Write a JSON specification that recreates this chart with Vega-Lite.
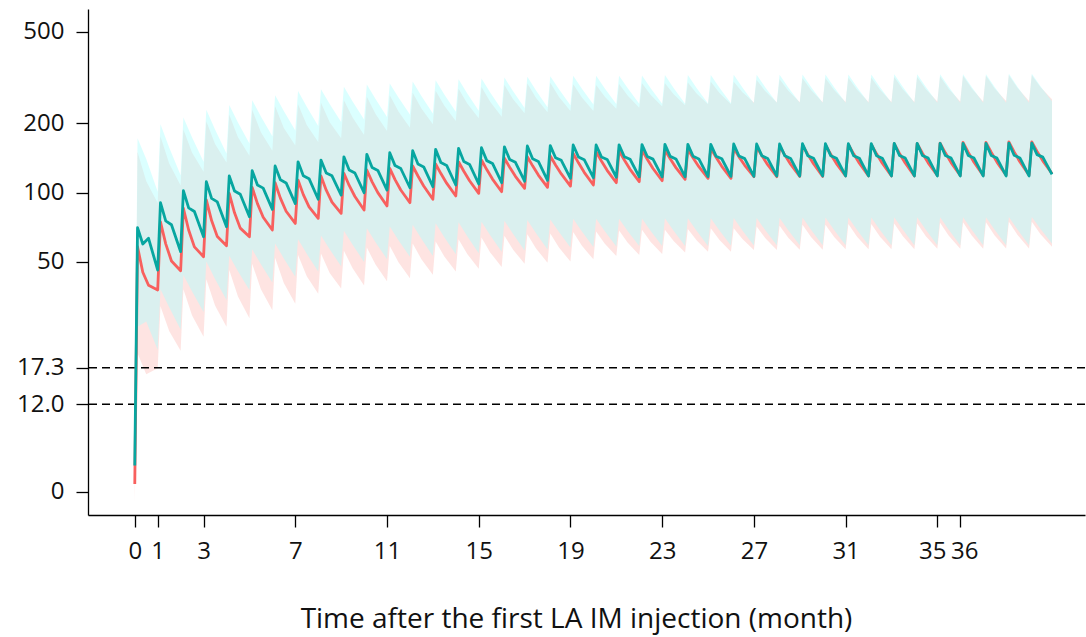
{
  "$schema": "https://vega.github.io/schema/vega-lite/v6.json",
  "width": 997,
  "height": 506,
  "autosize": {"type": "none"},
  "padding": {"left": 88, "top": 9, "right": 1, "bottom": 122},
  "background": "white",
  "config": {
    "view": {"stroke": null},
    "font": "Open Sans",
    "axis": {"domainColor": "#000000", "domainWidth": 1.3, "tickColor": "#000000", "tickWidth": 1.3, "labelColor": "#111111", "titleColor": "#111111", "titleFontWeight": "normal", "grid": false}
  },
  "datasets": {
    "refs": [{"y": 17.3}, {"y": 12}],
    "lines": [
      {"t":0,"g":"A","v":5.4},
      {"t":0.12,"g":"A","v":58.1},{"t":0.35,"g":"A","v":45},{"t":0.6,"g":"A","v":39.5},{"t":1,"g":"A","v":37.7},
      {"t":1.12,"g":"A","v":74.6},{"t":1.35,"g":"A","v":59.8},{"t":1.6,"g":"A","v":50.4},{"t":2,"g":"A","v":45.7},
      {"t":2.12,"g":"A","v":85.4},{"t":2.35,"g":"A","v":68.7},{"t":2.6,"g":"A","v":58.0},{"t":3,"g":"A","v":52.6},
      {"t":3.12,"g":"A","v":92.8},{"t":3.35,"g":"A","v":75.5},{"t":3.6,"g":"A","v":64.3},{"t":4,"g":"A","v":58.7},
      {"t":4.12,"g":"A","v":99.2},{"t":4.35,"g":"A","v":81.6},{"t":4.6,"g":"A","v":70.0},{"t":5,"g":"A","v":64.2},
      {"t":5.12,"g":"A","v":105.3},{"t":5.35,"g":"A","v":89.5},{"t":5.6,"g":"A","v":78.1},{"t":6,"g":"A","v":68.7},
      {"t":6.12,"g":"A","v":110.3},{"t":6.35,"g":"A","v":94.5},{"t":6.6,"g":"A","v":82.9},{"t":7,"g":"A","v":73.4},
      {"t":7.12,"g":"A","v":113.3},{"t":7.35,"g":"A","v":97.9},{"t":7.6,"g":"A","v":86.6},{"t":8,"g":"A","v":77.2},
      {"t":8.12,"g":"A","v":118.0},{"t":8.35,"g":"A","v":102.4},{"t":8.6,"g":"A","v":90.8},{"t":9,"g":"A","v":81.2},
      {"t":9.12,"g":"A","v":121.2},{"t":9.35,"g":"A","v":107.3},{"t":9.6,"g":"A","v":96.1},{"t":10,"g":"A","v":83.9},
      {"t":10.12,"g":"A","v":125.3},{"t":10.35,"g":"A","v":111.3},{"t":10.6,"g":"A","v":99.9},{"t":11,"g":"A","v":87.4},
      {"t":11.12,"g":"A","v":127.4},{"t":11.35,"g":"A","v":113.7},{"t":11.6,"g":"A","v":102.6},{"t":12,"g":"A","v":90.3},
      {"t":12.12,"g":"A","v":130.4},{"t":12.35,"g":"A","v":118.0},{"t":12.6,"g":"A","v":106.7},{"t":13,"g":"A","v":93.4},
      {"t":13.12,"g":"A","v":133.1},{"t":13.35,"g":"A","v":120.9},{"t":13.6,"g":"A","v":109.8},{"t":14,"g":"A","v":96.6},
      {"t":14.12,"g":"A","v":136.0},{"t":14.35,"g":"A","v":123.7},{"t":14.6,"g":"A","v":112.5},{"t":15,"g":"A","v":99.2},
      {"t":15.12,"g":"A","v":138.4},{"t":15.35,"g":"A","v":125.8},{"t":15.6,"g":"A","v":114.4},{"t":16,"g":"A","v":100.8},
      {"t":16.12,"g":"A","v":140.9},{"t":16.35,"g":"A","v":128.7},{"t":16.6,"g":"A","v":117.6},{"t":17,"g":"A","v":104.3},
      {"t":17.12,"g":"A","v":143.2},{"t":17.35,"g":"A","v":130.6},{"t":17.6,"g":"A","v":119.1},{"t":18,"g":"A","v":105.3},
      {"t":18.12,"g":"A","v":144.2},{"t":18.35,"g":"A","v":131.7},{"t":18.6,"g":"A","v":120.4},{"t":19,"g":"A","v":106.7},
      {"t":19.12,"g":"A","v":148.0},{"t":19.35,"g":"A","v":134.6},{"t":19.6,"g":"A","v":122.4},{"t":20,"g":"A","v":107.8},
      {"t":20.12,"g":"A","v":150.5},{"t":20.35,"g":"A","v":137.1},{"t":20.6,"g":"A","v":124.9},{"t":21,"g":"A","v":110.3},
      {"t":21.12,"g":"A","v":152.0},{"t":21.35,"g":"A","v":138.5},{"t":21.6,"g":"A","v":126.1},{"t":22,"g":"A","v":111.4},
      {"t":22.12,"g":"A","v":153.0},{"t":22.35,"g":"A","v":139.5},{"t":22.6,"g":"A","v":127.2},{"t":23,"g":"A","v":112.5},
      {"t":23.12,"g":"A","v":153.0},{"t":23.35,"g":"A","v":140.1},{"t":23.6,"g":"A","v":128.3},{"t":24,"g":"A","v":114.1},
      {"t":24.12,"g":"A","v":154.2},{"t":24.35,"g":"A","v":141.3},{"t":24.6,"g":"A","v":129.5},{"t":25,"g":"A","v":115.3},
      {"t":25.12,"g":"A","v":155.6},{"t":25.35,"g":"A","v":142.2},{"t":25.6,"g":"A","v":130.0},{"t":26,"g":"A","v":115.3},
      {"t":26.12,"g":"A","v":155.6},{"t":26.35,"g":"A","v":142.9},{"t":26.6,"g":"A","v":131.3},{"t":27,"g":"A","v":117.2},
      {"t":27.12,"g":"A","v":158.0},{"t":27.35,"g":"A","v":144.5},{"t":27.6,"g":"A","v":132.1},{"t":28,"g":"A","v":117.2},
      {"t":28.12,"g":"A","v":159.3},{"t":28.35,"g":"A","v":145.4},{"t":28.6,"g":"A","v":132.7},{"t":29,"g":"A","v":117.5},
      {"t":29.12,"g":"A","v":161.0},{"t":29.35,"g":"A","v":146.5},{"t":29.6,"g":"A","v":133.3},{"t":30,"g":"A","v":117.5},
      {"t":30.12,"g":"A","v":161.0},{"t":30.35,"g":"A","v":146.7},{"t":30.6,"g":"A","v":133.6},{"t":31,"g":"A","v":118.0},
      {"t":31.12,"g":"A","v":162.0},{"t":31.35,"g":"A","v":147.3},{"t":31.6,"g":"A","v":134.0},{"t":32,"g":"A","v":118.0},
      {"t":32.12,"g":"A","v":162.0},{"t":32.35,"g":"A","v":147.3},{"t":32.6,"g":"A","v":134.0},{"t":33,"g":"A","v":118.0},
      {"t":33.12,"g":"A","v":163.0},{"t":33.35,"g":"A","v":147.9},{"t":33.6,"g":"A","v":134.3},{"t":34,"g":"A","v":118.0},
      {"t":34.12,"g":"A","v":163.0},{"t":34.35,"g":"A","v":148.1},{"t":34.6,"g":"A","v":134.6},{"t":35,"g":"A","v":118.5},
      {"t":35.12,"g":"A","v":164.0},{"t":35.35,"g":"A","v":148.8},{"t":35.6,"g":"A","v":134.9},{"t":36,"g":"A","v":118.5},
      {"t":36.12,"g":"A","v":165.0},{"t":36.35,"g":"A","v":149.4},{"t":36.6,"g":"A","v":135.3},{"t":37,"g":"A","v":118.5},
      {"t":37.12,"g":"A","v":165.0},{"t":37.35,"g":"A","v":149.6},{"t":37.6,"g":"A","v":135.6},{"t":38,"g":"A","v":119.0},
      {"t":38.12,"g":"A","v":166.0},{"t":38.35,"g":"A","v":150.2},{"t":38.6,"g":"A","v":136.0},{"t":39,"g":"A","v":119.0},
      {"t":39.12,"g":"A","v":166.0},{"t":39.35,"g":"A","v":151.0},{"t":39.6,"g":"A","v":137.3},{"t":40,"g":"A","v":121.0},
      {"t":0,"g":"B","v":6.5},
      {"t":0.12,"g":"B","v":70.3},{"t":0.35,"g":"B","v":59.7},{"t":0.6,"g":"B","v":63.2},{"t":1,"g":"B","v":46.0},
      {"t":1.12,"g":"B","v":90.3},{"t":1.35,"g":"B","v":75.3},{"t":1.6,"g":"B","v":72.4},{"t":2,"g":"B","v":55.3},
      {"t":2.12,"g":"B","v":101.8},{"t":2.35,"g":"B","v":85.8},{"t":2.6,"g":"B","v":82.7},{"t":3,"g":"B","v":64.2},
      {"t":3.12,"g":"B","v":111.4},{"t":3.35,"g":"B","v":94.3},{"t":3.6,"g":"B","v":91.0},{"t":4,"g":"B","v":71.0},
      {"t":4.12,"g":"B","v":118.0},{"t":4.35,"g":"B","v":101.5},{"t":4.6,"g":"B","v":98.2},{"t":5,"g":"B","v":78.5},
      {"t":5.12,"g":"B","v":124.4},{"t":5.35,"g":"B","v":107.8},{"t":5.6,"g":"B","v":104.5},{"t":6,"g":"B","v":84.5},
      {"t":6.12,"g":"B","v":130.4},{"t":6.35,"g":"B","v":113.5},{"t":6.6,"g":"B","v":110.1},{"t":7,"g":"B","v":89.5},
      {"t":7.12,"g":"B","v":136.0},{"t":7.35,"g":"B","v":118.4},{"t":7.6,"g":"B","v":114.9},{"t":8,"g":"B","v":93.5},
      {"t":8.12,"g":"B","v":138.4},{"t":8.35,"g":"B","v":121.6},{"t":8.6,"g":"B","v":118.2},{"t":9,"g":"B","v":97.5},
      {"t":9.12,"g":"B","v":143.0},{"t":9.35,"g":"B","v":125.2},{"t":9.6,"g":"B","v":121.6},{"t":10,"g":"B","v":99.8},
      {"t":10.12,"g":"B","v":146.6},{"t":10.35,"g":"B","v":128.4},{"t":10.6,"g":"B","v":124.8},{"t":11,"g":"B","v":102.5},
      {"t":11.12,"g":"B","v":149.0},{"t":11.35,"g":"B","v":130.9},{"t":11.6,"g":"B","v":127.2},{"t":12,"g":"B","v":104.9},
      {"t":12.12,"g":"B","v":152.0},{"t":12.35,"g":"B","v":133.0},{"t":12.6,"g":"B","v":129.2},{"t":13,"g":"B","v":106.0},
      {"t":13.12,"g":"B","v":154.0},{"t":13.35,"g":"B","v":134.9},{"t":13.6,"g":"B","v":131.2},{"t":14,"g":"B","v":107.8},
      {"t":14.12,"g":"B","v":155.6},{"t":14.35,"g":"B","v":136.4},{"t":14.6,"g":"B","v":132.5},{"t":15,"g":"B","v":108.9},
      {"t":15.12,"g":"B","v":156.6},{"t":15.35,"g":"B","v":137.6},{"t":15.6,"g":"B","v":133.8},{"t":16,"g":"B","v":110.3},
      {"t":16.12,"g":"B","v":158.0},{"t":16.35,"g":"B","v":139.1},{"t":16.6,"g":"B","v":135.3},{"t":17,"g":"B","v":112.0},
      {"t":17.12,"g":"B","v":159.3},{"t":17.35,"g":"B","v":140.3},{"t":17.6,"g":"B","v":136.5},{"t":18,"g":"B","v":113.0},
      {"t":18.12,"g":"B","v":160.0},{"t":18.35,"g":"B","v":141.7},{"t":18.6,"g":"B","v":138.1},{"t":19,"g":"B","v":115.3},
      {"t":19.12,"g":"B","v":161.0},{"t":19.35,"g":"B","v":142.6},{"t":19.6,"g":"B","v":138.9},{"t":20,"g":"B","v":116.0},
      {"t":20.12,"g":"B","v":161.0},{"t":20.35,"g":"B","v":142.8},{"t":20.6,"g":"B","v":139.2},{"t":21,"g":"B","v":116.5},
      {"t":21.12,"g":"B","v":161.0},{"t":21.35,"g":"B","v":143.1},{"t":21.6,"g":"B","v":139.5},{"t":22,"g":"B","v":117.0},
      {"t":22.12,"g":"B","v":161.5},{"t":22.35,"g":"B","v":143.4},{"t":22.6,"g":"B","v":139.7},{"t":23,"g":"B","v":117.0},
      {"t":23.12,"g":"B","v":162.0},{"t":23.35,"g":"B","v":143.6},{"t":23.6,"g":"B","v":139.9},{"t":24,"g":"B","v":117.0},
      {"t":24.12,"g":"B","v":162.0},{"t":24.35,"g":"B","v":143.7},{"t":24.6,"g":"B","v":140.0},{"t":25,"g":"B","v":117.2},
      {"t":25.12,"g":"B","v":162.0},{"t":25.35,"g":"B","v":143.9},{"t":25.6,"g":"B","v":140.2},{"t":26,"g":"B","v":117.5},
      {"t":26.12,"g":"B","v":162.5},{"t":26.35,"g":"B","v":144.1},{"t":26.6,"g":"B","v":140.4},{"t":27,"g":"B","v":117.5},
      {"t":27.12,"g":"B","v":162.5},{"t":27.35,"g":"B","v":144.4},{"t":27.6,"g":"B","v":140.7},{"t":28,"g":"B","v":118.0},
      {"t":28.12,"g":"B","v":162.5},{"t":28.35,"g":"B","v":144.4},{"t":28.6,"g":"B","v":140.7},{"t":29,"g":"B","v":118.0},
      {"t":29.12,"g":"B","v":163.0},{"t":29.35,"g":"B","v":144.6},{"t":29.6,"g":"B","v":140.9},{"t":30,"g":"B","v":118.0},
      {"t":30.12,"g":"B","v":163.0},{"t":30.35,"g":"B","v":144.6},{"t":30.6,"g":"B","v":140.9},{"t":31,"g":"B","v":118.0},
      {"t":31.12,"g":"B","v":163.0},{"t":31.35,"g":"B","v":144.6},{"t":31.6,"g":"B","v":140.9},{"t":32,"g":"B","v":118.0},
      {"t":32.12,"g":"B","v":163.0},{"t":32.35,"g":"B","v":144.6},{"t":32.6,"g":"B","v":140.9},{"t":33,"g":"B","v":118.0},
      {"t":33.12,"g":"B","v":163.5},{"t":33.35,"g":"B","v":144.9},{"t":33.6,"g":"B","v":141.2},{"t":34,"g":"B","v":118.0},
      {"t":34.12,"g":"B","v":163.5},{"t":34.35,"g":"B","v":144.9},{"t":34.6,"g":"B","v":141.2},{"t":35,"g":"B","v":118.0},
      {"t":35.12,"g":"B","v":163.5},{"t":35.35,"g":"B","v":144.9},{"t":35.6,"g":"B","v":141.2},{"t":36,"g":"B","v":118.0},
      {"t":36.12,"g":"B","v":163.5},{"t":36.35,"g":"B","v":144.9},{"t":36.6,"g":"B","v":141.2},{"t":37,"g":"B","v":118.0},
      {"t":37.12,"g":"B","v":163.5},{"t":37.35,"g":"B","v":144.9},{"t":37.6,"g":"B","v":141.2},{"t":38,"g":"B","v":118.0},
      {"t":38.12,"g":"B","v":164.0},{"t":38.35,"g":"B","v":145.2},{"t":38.6,"g":"B","v":141.4},{"t":39,"g":"B","v":118.0},
      {"t":39.12,"g":"B","v":164.0},{"t":39.35,"g":"B","v":146.1},{"t":39.6,"g":"B","v":142.5},{"t":40,"g":"B","v":120.0}
    ],
    "bands": [
      {"t":0,"g":"A","lo":4.5,"hi":8},
      {"t":0.12,"g":"A","lo":20,"hi":150},{"t":0.5,"g":"A","lo":16.2,"hi":112},{"t":1,"g":"A","lo":17.2,"hi":90},
      {"t":1.12,"g":"A","lo":32,"hi":175},{"t":1.5,"g":"A","lo":25.0,"hi":133.8},{"t":2,"g":"A","lo":20.5,"hi":107.4},
      {"t":2.12,"g":"A","lo":38,"hi":188},{"t":2.5,"g":"A","lo":29.2,"hi":148.9},{"t":3,"g":"A","lo":23.6,"hi":123},
      {"t":3.12,"g":"A","lo":42,"hi":204},{"t":3.5,"g":"A","lo":32.3,"hi":162.6},{"t":4,"g":"A","lo":26.1,"hi":135},
      {"t":4.12,"g":"A","lo":46,"hi":218},{"t":4.5,"g":"A","lo":35.3,"hi":173.9},{"t":5,"g":"A","lo":28.4,"hi":144.5},
      {"t":5.12,"g":"A","lo":49,"hi":229},{"t":5.5,"g":"A","lo":38.0,"hi":182.7},{"t":6,"g":"A","lo":30.8,"hi":152},
      {"t":6.12,"g":"A","lo":52,"hi":237},{"t":6.5,"g":"A","lo":40.4,"hi":191},{"t":7,"g":"A","lo":32.8,"hi":160},
      {"t":7.12,"g":"A","lo":53.5,"hi":242},{"t":7.5,"g":"A","lo":43.2,"hi":196.7},{"t":8,"g":"A","lo":36.3,"hi":166},
      {"t":8.12,"g":"A","lo":54.3,"hi":245.4},{"t":8.5,"g":"A","lo":44.7,"hi":201.9},{"t":9,"g":"A","lo":38.2,"hi":172.1},
      {"t":9.12,"g":"A","lo":55.8,"hi":252.1},{"t":9.5,"g":"A","lo":46.9,"hi":211.8},{"t":10,"g":"A","lo":39.4,"hi":177.9},
      {"t":10.12,"g":"A","lo":57.6,"hi":260.6},{"t":10.5,"g":"A","lo":48.6,"hi":219.7},{"t":11,"g":"A","lo":41.1,"hi":185.3},
      {"t":11.12,"g":"A","lo":58.6,"hi":265},{"t":11.5,"g":"A","lo":49.8,"hi":225.2},{"t":12,"g":"A","lo":42.4,"hi":191.4},
      {"t":12.12,"g":"A","lo":60.0,"hi":271.2},{"t":12.5,"g":"A","lo":51.3,"hi":231.7},{"t":13,"g":"A","lo":43.9,"hi":198},
      {"t":13.12,"g":"A","lo":61.2,"hi":276.8},{"t":13.5,"g":"A","lo":52.7,"hi":238.1},{"t":14,"g":"A","lo":45.4,"hi":204.8},
      {"t":14.12,"g":"A","lo":62.6,"hi":282.9},{"t":14.5,"g":"A","lo":54.0,"hi":243.9},{"t":15,"g":"A","lo":46.6,"hi":210.3},
      {"t":15.12,"g":"A","lo":63.7,"hi":287.9},{"t":15.5,"g":"A","lo":54.9,"hi":248},{"t":16,"g":"A","lo":47.4,"hi":213.7},
      {"t":16.12,"g":"A","lo":64.8,"hi":293.1},{"t":16.5,"g":"A","lo":56.4,"hi":254.6},{"t":17,"g":"A","lo":49,"hi":221.1},
      {"t":17.12,"g":"A","lo":65.9,"hi":297.9},{"t":17.5,"g":"A","lo":57.1,"hi":257.9},{"t":18,"g":"A","lo":49.5,"hi":223.2},
      {"t":18.12,"g":"A","lo":66.3,"hi":299.9},{"t":18.5,"g":"A","lo":57.6,"hi":260.5},{"t":19,"g":"A","lo":50.1,"hi":226.2},
      {"t":19.12,"g":"A","lo":67.3,"hi":296},{"t":19.5,"g":"A","lo":58.7,"hi":258.9},{"t":20,"g":"A","lo":51.2,"hi":226.4},
      {"t":20.12,"g":"A","lo":67.7,"hi":293.5},{"t":20.5,"g":"A","lo":59.8,"hi":260.7},{"t":21,"g":"A","lo":52.9,"hi":231.6},
      {"t":21.12,"g":"A","lo":68.4,"hi":296.4},{"t":21.5,"g":"A","lo":60.5,"hi":263.3},{"t":22,"g":"A","lo":53.5,"hi":233.9},
      {"t":22.12,"g":"A","lo":68.9,"hi":298.4},{"t":22.5,"g":"A","lo":61.0,"hi":265.5},{"t":23,"g":"A","lo":54,"hi":236.3},
      {"t":23.12,"g":"A","lo":68.9,"hi":298.4},{"t":23.5,"g":"A","lo":61.5,"hi":267.4},{"t":24,"g":"A","lo":54.8,"hi":239.6},
      {"t":24.12,"g":"A","lo":69.4,"hi":300.7},{"t":24.5,"g":"A","lo":62.0,"hi":269.8},{"t":25,"g":"A","lo":55.3,"hi":242.1},
      {"t":25.12,"g":"A","lo":70,"hi":303.4},{"t":25.5,"g":"A","lo":62.2,"hi":271},{"t":26,"g":"A","lo":55.3,"hi":242.1},
      {"t":26.12,"g":"A","lo":70,"hi":303.4},{"t":26.5,"g":"A","lo":62.8,"hi":273.2},{"t":27,"g":"A","lo":56.3,"hi":246.1},
      {"t":27.12,"g":"A","lo":71.1,"hi":308.1},{"t":27.5,"g":"A","lo":63.3,"hi":275.3},{"t":28,"g":"A","lo":56.3,"hi":246.1},
      {"t":28.12,"g":"A","lo":71.7,"hi":310.6},{"t":28.5,"g":"A","lo":63.6,"hi":276.8},{"t":29,"g":"A","lo":56.4,"hi":246.8},
      {"t":29.12,"g":"A","lo":72.5,"hi":314},{"t":29.5,"g":"A","lo":63.9,"hi":278.4},{"t":30,"g":"A","lo":56.4,"hi":246.8},
      {"t":30.12,"g":"A","lo":72.5,"hi":314},{"t":30.5,"g":"A","lo":64.1,"hi":278.9},{"t":31,"g":"A","lo":56.6,"hi":247.8},
      {"t":31.12,"g":"A","lo":72.9,"hi":315.9},{"t":31.5,"g":"A","lo":64.2,"hi":279.8},{"t":32,"g":"A","lo":56.6,"hi":247.8},
      {"t":32.12,"g":"A","lo":72.9,"hi":315.9},{"t":32.5,"g":"A","lo":64.2,"hi":279.8},{"t":33,"g":"A","lo":56.6,"hi":247.8},
      {"t":33.12,"g":"A","lo":73.4,"hi":317.9},{"t":33.5,"g":"A","lo":64.5,"hi":280.7},{"t":34,"g":"A","lo":56.6,"hi":247.8},
      {"t":34.12,"g":"A","lo":73.4,"hi":317.9},{"t":34.5,"g":"A","lo":64.6,"hi":281.3},{"t":35,"g":"A","lo":56.9,"hi":248.9},
      {"t":35.12,"g":"A","lo":73.8,"hi":319.8},{"t":35.5,"g":"A","lo":64.8,"hi":282.1},{"t":36,"g":"A","lo":56.9,"hi":248.9},
      {"t":36.12,"g":"A","lo":74.3,"hi":321.8},{"t":36.5,"g":"A","lo":65.0,"hi":283},{"t":37,"g":"A","lo":56.9,"hi":248.9},
      {"t":37.12,"g":"A","lo":74.3,"hi":321.8},{"t":37.5,"g":"A","lo":65.1,"hi":283.6},{"t":38,"g":"A","lo":57.1,"hi":249.9},
      {"t":38.12,"g":"A","lo":74.7,"hi":323.7},{"t":38.5,"g":"A","lo":65.3,"hi":284.4},{"t":39,"g":"A","lo":57.1,"hi":249.9},
      {"t":39.12,"g":"A","lo":74.7,"hi":323.7},{"t":39.5,"g":"A","lo":65.9,"hi":286.8},{"t":40,"g":"A","lo":58.1,"hi":254.1},
      {"t":0,"g":"B","lo":5.5,"hi":9},
      {"t":0.12,"g":"B","lo":26.1,"hi":172},{"t":0.5,"g":"B","lo":27.5,"hi":140},{"t":1,"g":"B","lo":20.7,"hi":100.8},
      {"t":1.12,"g":"B","lo":38,"hi":198},{"t":1.5,"g":"B","lo":31.7,"hi":157},{"t":2,"g":"B","lo":25.4,"hi":119},
      {"t":2.12,"g":"B","lo":43.8,"hi":212},{"t":2.5,"g":"B","lo":37.1,"hi":173.6},{"t":3,"g":"B","lo":30.2,"hi":136},
      {"t":3.12,"g":"B","lo":50.1,"hi":229},{"t":3.5,"g":"B","lo":42.1,"hi":188},{"t":4,"g":"B","lo":34.1,"hi":147.7},
      {"t":4.12,"g":"B","lo":53.1,"hi":240},{"t":4.5,"g":"B","lo":45.5,"hi":201.8},{"t":5,"g":"B","lo":37.7,"hi":163.3},
      {"t":5.12,"g":"B","lo":56.6,"hi":252},{"t":5.5,"g":"B","lo":48.7,"hi":214.3},{"t":6,"g":"B","lo":40.6,"hi":175.8},
      {"t":6.12,"g":"B","lo":60,"hi":265},{"t":6.5,"g":"B","lo":51.7,"hi":226},{"t":7,"g":"B","lo":43,"hi":186},
      {"t":7.12,"g":"B","lo":62.6,"hi":276},{"t":7.5,"g":"B","lo":54.1,"hi":235.8},{"t":8,"g":"B","lo":45.3,"hi":194.5},
      {"t":8.12,"g":"B","lo":65,"hi":281},{"t":8.5,"g":"B","lo":56.6,"hi":242.7},{"t":9,"g":"B","lo":47.8,"hi":202.8},
      {"t":9.12,"g":"B","lo":68.2,"hi":288},{"t":9.5,"g":"B","lo":59.3,"hi":248.6},{"t":10,"g":"B","lo":49.9,"hi":207.6},
      {"t":10.12,"g":"B","lo":69.9,"hi":295},{"t":10.5,"g":"B","lo":60.8,"hi":254.9},{"t":11,"g":"B","lo":51.3,"hi":213.2},
      {"t":11.12,"g":"B","lo":71.1,"hi":298},{"t":11.5,"g":"B","lo":62.0,"hi":259},{"t":12,"g":"B","lo":52.5,"hi":218.2},
      {"t":12.12,"g":"B","lo":72.5,"hi":304},{"t":12.5,"g":"B","lo":63.0,"hi":263.1},{"t":13,"g":"B","lo":53,"hi":220.5},
      {"t":13.12,"g":"B","lo":73.5,"hi":308},{"t":13.5,"g":"B","lo":63.9,"hi":267},{"t":14,"g":"B","lo":53.9,"hi":224.2},
      {"t":14.12,"g":"B","lo":74.2,"hi":311},{"t":14.5,"g":"B","lo":64.6,"hi":269.6},{"t":15,"g":"B","lo":54.5,"hi":226.5},
      {"t":15.12,"g":"B","lo":74.7,"hi":313},{"t":15.5,"g":"B","lo":65.2,"hi":272.1},{"t":16,"g":"B","lo":55.2,"hi":229.4},
      {"t":16.12,"g":"B","lo":75.4,"hi":316},{"t":16.5,"g":"B","lo":66.0,"hi":275.5},{"t":17,"g":"B","lo":56,"hi":233},
      {"t":17.12,"g":"B","lo":76,"hi":318.6},{"t":17.5,"g":"B","lo":66.5,"hi":277.8},{"t":18,"g":"B","lo":56.5,"hi":235},
      {"t":18.12,"g":"B","lo":76.3,"hi":320},{"t":18.5,"g":"B","lo":67.3,"hi":281},{"t":19,"g":"B","lo":57.7,"hi":239.8},
      {"t":19.12,"g":"B","lo":76.8,"hi":322},{"t":19.5,"g":"B","lo":67.7,"hi":282.7},{"t":20,"g":"B","lo":58,"hi":241.3},
      {"t":20.12,"g":"B","lo":76.8,"hi":322},{"t":20.5,"g":"B","lo":67.8,"hi":283.3},{"t":21,"g":"B","lo":58.3,"hi":242.3},
      {"t":21.12,"g":"B","lo":76.8,"hi":322},{"t":21.5,"g":"B","lo":67.9,"hi":283.9},{"t":22,"g":"B","lo":58.5,"hi":243.4},
      {"t":22.12,"g":"B","lo":77,"hi":323},{"t":22.5,"g":"B","lo":68.0,"hi":284.3},{"t":23,"g":"B","lo":58.5,"hi":243.4},
      {"t":23.12,"g":"B","lo":77.3,"hi":324},{"t":23.5,"g":"B","lo":68.2,"hi":284.8},{"t":24,"g":"B","lo":58.5,"hi":243.4},
      {"t":24.12,"g":"B","lo":77.3,"hi":324},{"t":24.5,"g":"B","lo":68.2,"hi":285},{"t":25,"g":"B","lo":58.6,"hi":243.8},
      {"t":25.12,"g":"B","lo":77.3,"hi":324},{"t":25.5,"g":"B","lo":68.3,"hi":285.3},{"t":26,"g":"B","lo":58.8,"hi":244.4},
      {"t":26.12,"g":"B","lo":77.5,"hi":325},{"t":26.5,"g":"B","lo":68.4,"hi":285.9},{"t":27,"g":"B","lo":58.8,"hi":244.4},
      {"t":27.12,"g":"B","lo":77.5,"hi":325},{"t":27.5,"g":"B","lo":68.5,"hi":286.5},{"t":28,"g":"B","lo":59,"hi":245.4},
      {"t":28.12,"g":"B","lo":77.5,"hi":325},{"t":28.5,"g":"B","lo":68.5,"hi":286.5},{"t":29,"g":"B","lo":59,"hi":245.4},
      {"t":29.12,"g":"B","lo":77.8,"hi":326},{"t":29.5,"g":"B","lo":68.7,"hi":286.8},{"t":30,"g":"B","lo":59,"hi":245.4},
      {"t":30.12,"g":"B","lo":77.8,"hi":326},{"t":30.5,"g":"B","lo":68.7,"hi":286.8},{"t":31,"g":"B","lo":59,"hi":245.4},
      {"t":31.12,"g":"B","lo":77.8,"hi":326},{"t":31.5,"g":"B","lo":68.7,"hi":286.8},{"t":32,"g":"B","lo":59,"hi":245.4},
      {"t":32.12,"g":"B","lo":77.8,"hi":326},{"t":32.5,"g":"B","lo":68.7,"hi":286.8},{"t":33,"g":"B","lo":59,"hi":245.4},
      {"t":33.12,"g":"B","lo":78,"hi":327},{"t":33.5,"g":"B","lo":68.8,"hi":287.3},{"t":34,"g":"B","lo":59,"hi":245.4},
      {"t":34.12,"g":"B","lo":78,"hi":327},{"t":34.5,"g":"B","lo":68.8,"hi":287.3},{"t":35,"g":"B","lo":59,"hi":245.4},
      {"t":35.12,"g":"B","lo":78,"hi":327},{"t":35.5,"g":"B","lo":68.8,"hi":287.3},{"t":36,"g":"B","lo":59,"hi":245.4},
      {"t":36.12,"g":"B","lo":78,"hi":327},{"t":36.5,"g":"B","lo":68.8,"hi":287.3},{"t":37,"g":"B","lo":59,"hi":245.4},
      {"t":37.12,"g":"B","lo":78,"hi":327},{"t":37.5,"g":"B","lo":68.8,"hi":287.3},{"t":38,"g":"B","lo":59,"hi":245.4},
      {"t":38.12,"g":"B","lo":78.2,"hi":328},{"t":38.5,"g":"B","lo":68.9,"hi":287.8},{"t":39,"g":"B","lo":59,"hi":245.4},
      {"t":39.12,"g":"B","lo":78.2,"hi":328},{"t":39.5,"g":"B","lo":69.4,"hi":290},{"t":40,"g":"B","lo":60,"hi":249.6}
    ]
  },
  "layer": [
    {
      "data": {"name": "bands"},
      "transform": [{"filter": "datum.g === 'A'"}],
      "mark": {"type": "area", "color": "#F8766D", "opacity": 0.2},
      "encoding": {
        "x": {"field": "t", "type": "quantitative", "title": "Time after the first LA IM injection (month)",
              "scale": {"domain": [-2.04, 41.44], "nice": false, "zero": false},
              "axis": {"values": [0, 1, 3, 7, 11, 15, 19, 23, 27, 31, 35, 36], "tickSize": 12, "labelPadding": 12, "labelFontSize": 24, "titleFontSize": 28, "titleX": 488, "titleY": 112, "titleBaseline": "alphabetic", "titleAlign": "center", "labelOverlap": false, "labelFlush": false,
                       "labelOffset": {"condition": [{"test": "datum.value === 35", "value": -5}, {"test": "datum.value === 36", "value": 4}], "value": 0}}},
        "y": {"field": "lo", "type": "quantitative", "title": null,
              "scale": {"type": "log", "domain": [3.96, 628], "nice": false},
              "axis": {"values": [5, 12, 17.3, 50, 100, 200, 500], "tickSize": 12, "labelPadding": 12, "labelFontSize": 24, "labelOverlap": false, "labelExpr": "datum.value < 6 ? '0' : (datum.value < 20 ? format(datum.value, '.1f') : format(datum.value, 'd'))"}},
        "y2": {"field": "hi"}
      }
    },
    {
      "data": {"name": "bands"},
      "transform": [{"filter": "datum.g === 'B'"}],
      "mark": {"type": "area", "color": "#ADFFFF", "opacity": 0.44},
      "encoding": {
        "x": {"field": "t", "type": "quantitative", "title": "Time after the first LA IM injection (month)", "scale": {"domain": [-2.04, 41.44], "nice": false, "zero": false}},
        "y": {"field": "lo", "type": "quantitative", "title": null, "scale": {"type": "log", "domain": [3.96, 628], "nice": false}},
        "y2": {"field": "hi"}
      }
    },
    {
      "data": {"name": "refs"},
      "mark": {"type": "rule", "color": "#000000", "strokeWidth": 1.4, "strokeDash": [8, 5]},
      "encoding": {
        "y": {"field": "y", "type": "quantitative", "title": null, "scale": {"type": "log", "domain": [3.96, 628], "nice": false}}
      }
    },
    {
      "data": {"name": "lines"},
      "mark": {"type": "line", "strokeWidth": 2.8, "strokeJoin": "round"},
      "encoding": {
        "x": {"field": "t", "type": "quantitative", "title": "Time after the first LA IM injection (month)", "scale": {"domain": [-2.04, 41.44], "nice": false, "zero": false}},
        "y": {"field": "v", "type": "quantitative", "title": null, "scale": {"type": "log", "domain": [3.96, 628], "nice": false}},
        "color": {"field": "g", "type": "nominal", "scale": {"domain": ["A", "B"], "range": ["#F8605E", "#07A6A0"]}, "legend": null}
      }
    }
  ]
}
